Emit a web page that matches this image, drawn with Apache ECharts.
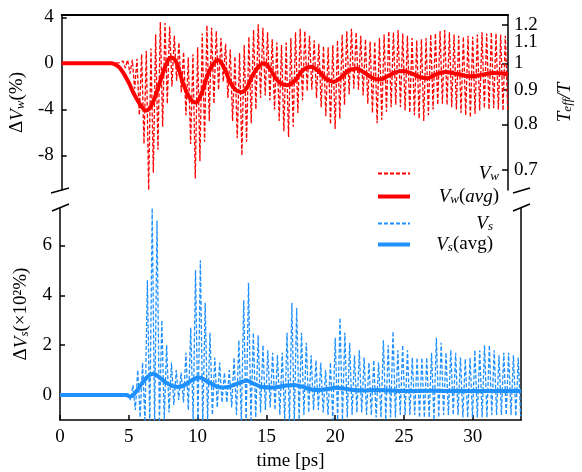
<!DOCTYPE html>
<html><head><meta charset="utf-8">
<script src="https://cdn.jsdelivr.net/npm/echarts@6/dist/echarts.min.js"></script>
<style>html,body{margin:0;padding:0;background:#fff}#c{width:582px;height:472px}</style>
</head><body><div id="c"></div>
<script>
// ---------- tick labels ----------
const xTicks = [0, 5, 10, 15, 20, 25, 30];
const wTicks = [4, 0, -4, -8];
const sTicks = [0, 2, 4, 6];
const tLabels = ['1.2', '1.1', '1', '0.9', '0.8', '0.7'];
const tPos = [3.33, 1.82, 0, -2.28, -5.30, -9.24];   // position of T_eff/T ticks on the ΔV_w scale

// ---------- fast oscillation sampling (one peak + one trough per period) ----------
const oscT0 = 4.6;
const oscPeriod = 0.35;

// ---------- ΔV_w (%) ----------
const wStartT = [0, 4.3];
const wStartV = [0, 0.05];
const wPeaks = [
  0.2, 0.3, 0.3, 0.4, 0.8, 1.1, 1.3, 2.5, 3.6, 3.5,
  3.2, 2.4, 1.8, 1.0, 0.5, 0.8, 1.4, 2.6, 3.3, 3.1,
  2.8, 2.2, 1.7, 1.2, 0.6, 0.9, 1.6, 2.3, 2.9, 3.4,
  3.1, 2.7, 2.1, 1.8, 1.6, 1.8, 2.2, 2.7, 3.0, 2.8,
  2.4, 2.0, 1.7, 1.5, 1.4, 1.6, 2.0, 2.5, 2.8, 3.0,
  2.7, 2.4, 2.1, 1.9, 1.9, 2.2, 2.5, 2.8, 2.7, 2.9,
  2.6, 2.4, 2.2, 2.0, 2.1, 2.2, 2.5, 2.6, 2.8, 2.9,
  2.7, 2.5, 2.4, 2.3, 2.4, 2.3, 2.5, 2.7, 2.6, 2.7,
  2.6, 2.5, 2.4
];
const wTroughs = [
  -0.4, -0.9, -2.2, -4.5, -7.0, -11.0, -9.5, -7.5, -5.5, -3.5,
  -2.0, -1.5, -2.5, -4.5, -7.0, -10.0, -8.5, -6.8, -5.0, -3.5,
  -2.3, -1.6, -3.0, -5.0, -6.5, -8.0, -6.8, -5.2, -4.0, -3.0,
  -2.8, -3.2, -4.0, -5.0, -5.9, -6.4, -5.5, -4.3, -3.2, -2.4,
  -2.3, -3.0, -3.8, -4.6, -5.3, -5.7, -4.8, -3.6, -2.7, -2.2,
  -2.3, -2.8, -3.5, -4.3, -5.2, -4.9, -4.2, -3.8, -3.6, -3.8,
  -4.1, -4.3, -4.5, -4.8, -5.0, -4.5, -4.0, -3.6, -3.5, -3.6,
  -3.8, -4.0, -4.3, -4.5, -4.7, -4.4, -4.1, -3.9, -4.0, -3.9,
  -4.0, -4.1, -4.0
];
const wAvgT = [0, 3.7, 4.0, 4.4, 5.0, 5.4, 5.9, 6.35, 6.8, 7.3,
  7.8, 8.2, 8.6, 9.1, 9.6, 10.05, 10.5, 10.95, 11.35, 11.73,
  12.15, 12.6, 13.05, 13.5, 13.9, 14.35, 14.8, 15.2, 15.65, 16.2,
  16.9, 17.5, 18.1, 18.7, 19.3, 19.8, 20.4, 21.0, 21.5, 22.1,
  22.7, 23.3, 23.9, 24.5, 25.0, 25.6, 26.3, 26.9, 27.4, 28.0,
  28.8, 29.6, 30.2, 30.7, 31.5, 32.4, 33.5];
const wAvgV = [0, 0, -0.1, -0.45, -1.6, -2.6, -3.6, -4.1, -3.5, -1.9,
  -0.2, 0.5, 0.1, -1.7, -3.0, -3.4, -2.6, -1.0, -0.1, 0.3,
  -0.3, -1.5, -2.3, -2.5, -2.1, -1.0, -0.25, 0.0, -0.5, -1.5,
  -1.9, -1.5, -0.6, -0.3, -0.7, -1.3, -1.6, -1.2, -0.65, -0.45,
  -0.8, -1.25, -1.4, -1.1, -0.8, -0.67, -0.9, -1.2, -1.3, -1.0,
  -0.75, -0.9, -1.05, -1.13, -1.0, -0.84, -0.95];

// ---------- ΔV_s (×10² %) ----------
const sStartT = [0, 4.4];
const sStartV = [0, 0];
const sPeaks = [
  0.0, 0.05, 0.4, 1.0, 1.3, 4.6, 7.5, 7.0, 3.0, 2.0,
  1.3, 1.0, 0.9, 1.7, 2.7, 5.0, 5.4, 3.7, 2.5, 1.5,
  1.3, 0.9, 1.0, 1.5, 2.2, 3.8, 4.5, 2.5, 2.4, 2.0,
  1.8, 1.7, 1.6, 1.7, 2.5, 3.7, 3.5, 2.5, 2.1, 1.6,
  1.4, 1.3, 1.0, 1.3, 2.3, 3.1, 2.5, 2.1, 1.6, 1.8,
  1.5, 1.3, 1.4, 1.3, 2.2, 2.0, 2.55, 1.8, 2.0, 1.8,
  1.5, 1.5, 1.5, 1.5, 1.7, 2.3, 2.1, 1.7, 1.8, 1.7,
  1.5, 1.45, 1.5, 1.8, 1.8, 2.0, 2.0, 1.8, 1.6, 1.7,
  1.7, 1.6, 1.5
];
const sTroughs = [
  0.0, -0.2, -0.6, -0.9, -1.1, -1.2, -1.2, -1.1, -1.0, -0.7,
  -0.4, -0.2, -0.3, -0.6, -1.0, -1.2, -1.2, -1.0, -0.8, -0.5,
  -0.3, -0.3, -0.5, -0.8, -1.1, -1.2, -1.1, -0.9, -0.7, -0.6,
  -0.5, -0.6, -0.8, -1.0, -1.1, -1.1, -1.0, -0.8, -0.7, -0.6,
  -0.6, -0.7, -0.8, -1.0, -1.0, -1.0, -0.9, -0.8, -0.7, -0.7,
  -0.8, -0.8, -0.9, -0.9, -1.0, -0.9, -0.9, -0.8, -0.8, -0.8,
  -0.8, -0.9, -0.9, -0.9, -1.0, -0.9, -0.8, -0.8, -0.8, -0.8,
  -0.9, -0.9, -0.9, -0.9, -0.9, -0.9, -0.8, -0.8, -0.8, -0.8,
  -0.8, -0.85, -0.85
];
const sAvgT = [0, 4.8, 5.1, 5.5, 6.0, 6.4, 6.75, 7.2, 7.7, 8.2,
  8.6, 9.1, 9.6, 10.1, 10.6, 11.2, 11.75, 12.3, 12.9, 13.55,
  14.1, 14.7, 15.4, 16.0, 16.6, 17.1, 17.6, 18.1, 18.7, 19.4,
  20.0, 20.6, 21.3, 22.0, 23.0, 24.0, 25.0, 27.0, 29.0, 31.0, 33.5];
const sAvgV = [0, 0, -0.06, 0.12, 0.5, 0.75, 0.85, 0.72, 0.5, 0.36,
  0.33, 0.42, 0.6, 0.7, 0.58, 0.4, 0.3, 0.34, 0.46, 0.57,
  0.45, 0.32, 0.3, 0.34, 0.39, 0.39, 0.33, 0.25, 0.2, 0.24,
  0.29, 0.26, 0.2, 0.18, 0.2, 0.18, 0.16, 0.17, 0.16, 0.16, 0.16];

// ---------- build data pairs ----------
function oscData(startT, startV, peaks, troughs) {
  const d = startT.map((t, i) => [t, startV[i]]);
  peaks.forEach((v, k) => {
    const t = oscT0 + k * oscPeriod;
    d.push([t, v]);
    d.push([t + oscPeriod / 2, troughs[k]]);
  });
  return d;
}
const zip = (a, b) => a.map((t, i) => [t, b[i]]);

const RED = '#ff0000', BLUE = '#1e90ff';
const FONT = '"Liberation Serif", "DejaVu Serif", serif';
const FS = 19;

const rich = {
  d: { fontFamily: FONT, fontSize: FS, color: '#000' },
  n: { fontFamily: FONT, fontSize: FS, color: '#000' },
  v: { fontFamily: FONT, fontSize: FS, fontStyle: 'italic', color: '#000' },
  sub: { fontFamily: FONT, fontSize: 13, fontStyle: 'italic', color: '#000', verticalAlign: 'bottom', lineHeight: 13 }
};
const richR = {};
Object.keys(rich).forEach(k => richR[k] = Object.assign({}, rich[k], { align: 'right' }));

const chart = echarts.init(document.getElementById('c'), null, { renderer: 'canvas' });

const axisLineStyle = { color: '#000', width: 1.5 };
const labelStyle = { fontFamily: FONT, fontSize: FS, color: '#000' };

const legendNames = {
  'Vw': '{v|V}{sub|w}',
  'VwAvg': '{v|V}{sub|w}{n|(}{v|avg}{n|)}',
  'Vs': '{v|V}{sub|s}',
  'VsAvg': '{v|V}{sub|s}{n|(avg)}'
};
const tFormatter = v => { const i = tPos.findIndex(p => Math.abs(p - v) < 1e-6); return i >= 0 ? tLabels[i] : ''; };
const legendBase = {
  orient: 'vertical', left: 376, padding: 0, itemWidth: 32, itemHeight: 12, selectedMode: false,
  itemStyle: { color: 'rgba(0,0,0,0)', borderWidth: 0, opacity: 0 },
  formatter: n => legendNames[n]
};

const option = {
  animation: false,
  backgroundColor: '#fff',
  grid: [
    { left: 60, top: 15, width: 461, height: 175 },
    { left: 60, top: 208, width: 461, height: 217 }
  ],
  xAxis: [
    { type: 'value', gridIndex: 0, min: 0, max: 33.5, position: 'top',
      axisLine: { show: true, onZero: false, lineStyle: { color: '#000', width: 2 } },
      axisTick: { show: false }, axisLabel: { show: false }, splitLine: { show: false } },
    { type: 'value', gridIndex: 1, min: 0, max: 33.5, position: 'bottom',
      axisLine: { show: true, onZero: false, lineStyle: axisLineStyle },
      axisTick: { show: true, inside: true, length: 5, customValues: xTicks, lineStyle: { color: '#000', width: 1.5 } },
      axisLabel: Object.assign({ customValues: xTicks, margin: 8 }, labelStyle),
      splitLine: { show: false },
      name: 'time [ps]', nameLocation: 'middle', nameGap: 32,
      nameTextStyle: { fontFamily: FONT, fontSize: FS, color: '#000' } }
  ],
  yAxis: [
    { type: 'value', gridIndex: 0, min: -11, max: 4.2, position: 'left',
      axisLine: { show: true, onZero: false, lineStyle: axisLineStyle },
      axisTick: { show: true, inside: true, length: 5, customValues: wTicks, lineStyle: { color: '#000', width: 1.5 } },
      axisLabel: Object.assign({ customValues: wTicks, margin: 8 }, labelStyle),
      splitLine: { show: false },
      name: '{d|Δ}{v|V}{sub|w}{n|(%)}', nameLocation: 'middle', nameRotate: 90, nameGap: 29,
      nameTextStyle: { rich: rich } },
    { type: 'value', gridIndex: 0, min: -11, max: 4.2, position: 'right',
      axisLine: { show: true, onZero: false, lineStyle: axisLineStyle },
      axisTick: { show: true, inside: true, length: 6, customValues: tPos, lineStyle: { color: '#000', width: 1.5 } },
      axisLabel: Object.assign({ customValues: tPos, margin: 6, hideOverlap: false, showMinLabel: true, showMaxLabel: true,
        formatter: tFormatter }, labelStyle, { lineHeight: 12 }),
      splitLine: { show: false },
      name: '{v|T}{sub|eff}{v|/T}', nameLocation: 'middle', nameRotate: 90, nameGap: 47,
      nameTextStyle: { rich: rich } },
    { type: 'value', gridIndex: 1, min: -1, max: 7.5, position: 'left',
      axisLine: { show: true, onZero: false, lineStyle: axisLineStyle },
      axisTick: { show: true, inside: true, length: 5, customValues: sTicks, lineStyle: { color: '#000', width: 1.5 } },
      axisLabel: Object.assign({ customValues: sTicks, margin: 8 }, labelStyle),
      splitLine: { show: false },
      name: '{d|Δ}{v|V}{sub|s}{n|(×10²%)}', nameLocation: 'middle', nameRotate: 90, nameGap: 29,
      nameTextStyle: { rich: rich } },
    { type: 'value', gridIndex: 1, min: -1, max: 7.5, position: 'right',
      axisLine: { show: true, onZero: false, lineStyle: axisLineStyle },
      axisTick: { show: false }, axisLabel: { show: false }, splitLine: { show: false } },
    // second label layer for the crowded T_eff/T tick at 1.1
    { type: 'value', gridIndex: 0, min: -11, max: 4.2, position: 'right',
      axisLine: { show: false, onZero: false }, axisTick: { show: false },
      axisLabel: Object.assign({ customValues: [tPos[1]], margin: 6, formatter: tFormatter }, labelStyle, { lineHeight: 12 }),
      splitLine: { show: false } }
  ],
  legend: [
    Object.assign({ data: ['Vw', { name: 'VwAvg', lineStyle: { width: 4 } }], top: 164, itemGap: 4,
      textStyle: { width: 84, rich: richR } }, legendBase),
    Object.assign({ data: ['Vs', { name: 'VsAvg', lineStyle: { width: 4 } }], top: 214, itemGap: 2,
      textStyle: { width: 78, rich: richR } }, legendBase)
  ],
  series: [
    { name: 'Vw', type: 'line', xAxisIndex: 0, yAxisIndex: 0, symbol: 'none', z: 2,
      data: oscData(wStartT, wStartV, wPeaks, wTroughs),
      lineStyle: { color: RED, width: 1.3, type: [4, 2] }, itemStyle: { color: RED } },
    { name: 'VwAvg', type: 'line', xAxisIndex: 0, yAxisIndex: 0, symbol: 'none', z: 3, smooth: 0.4,
      data: zip(wAvgT, wAvgV),
      lineStyle: { color: RED, width: 4 }, itemStyle: { color: RED } },
    { name: 'Vs', type: 'line', xAxisIndex: 1, yAxisIndex: 2, symbol: 'none', z: 2,
      data: oscData(sStartT, sStartV, sPeaks, sTroughs),
      lineStyle: { color: BLUE, width: 1.3, type: [4, 2] }, itemStyle: { color: BLUE } },
    { name: 'VsAvg', type: 'line', xAxisIndex: 1, yAxisIndex: 2, symbol: 'none', z: 3, smooth: 0.4,
      data: zip(sAvgT, sAvgV),
      lineStyle: { color: BLUE, width: 4 }, itemStyle: { color: BLUE } }
  ],
  graphic: [
    { type: 'line', shape: { x1: 51, y1: 193, x2: 69, y2: 188 }, style: { stroke: '#000', lineWidth: 1.5 }, z: 100 },
    { type: 'line', shape: { x1: 52, y1: 211, x2: 69, y2: 204 }, style: { stroke: '#000', lineWidth: 1.5 }, z: 100 },
    { type: 'line', shape: { x1: 513, y1: 193, x2: 530, y2: 188 }, style: { stroke: '#000', lineWidth: 1.5 }, z: 100 },
    { type: 'line', shape: { x1: 513, y1: 211, x2: 530, y2: 204 }, style: { stroke: '#000', lineWidth: 1.5 }, z: 100 }
  ]
};
chart.setOption(option);
</script>
</body></html>
